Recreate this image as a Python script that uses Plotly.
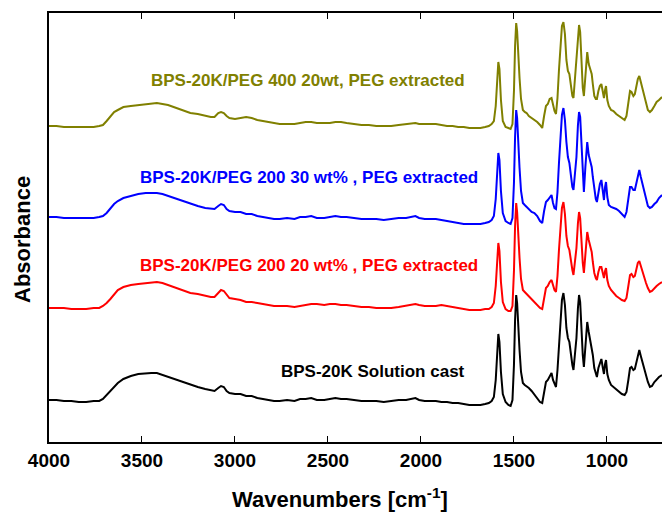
import plotly.graph_objects as go

# Wavenumber grid (cm^-1)
WN = [4000, 3960, 3920, 3880, 3840, 3800, 3760, 3730, 3710, 3690,
      3670, 3650, 3630, 3600, 3560, 3520, 3480, 3450, 3420, 3390,
      3360, 3330, 3300, 3270, 3240, 3200, 3160, 3130, 3110, 3090,
      3075, 3060, 3045, 3030, 3000, 2970, 2940, 2910, 2880, 2850,
      2820, 2790, 2760, 2720, 2680, 2650, 2620, 2590, 2560, 2520,
      2490, 2460, 2430, 2400, 2360, 2320, 2280, 2240, 2200, 2160,
      2120, 2080, 2050, 2030, 2010, 1980, 1950, 1920, 1890, 1860,
      1830, 1800, 1770, 1740, 1710, 1680, 1655, 1635, 1620, 1608,
      1598, 1590, 1584, 1578, 1570, 1560, 1545, 1530, 1518, 1508,
      1500, 1494, 1488, 1483, 1476, 1470, 1462, 1452, 1442, 1432,
      1420, 1405, 1390, 1375, 1360, 1348, 1338, 1328, 1318, 1308,
      1298, 1290, 1282, 1274, 1266, 1258, 1250, 1242, 1234, 1226,
      1218, 1210, 1202, 1194, 1186, 1180, 1172, 1164, 1156, 1150,
      1144, 1137, 1130, 1124, 1116, 1106, 1098, 1090, 1082, 1076,
      1068, 1060, 1054, 1046, 1038, 1030, 1022, 1016, 1010, 1005,
      998, 990, 978, 965, 950, 935, 920, 905, 895, 885,
      876, 868, 858, 850, 842, 834, 826, 818, 810, 801,
      790, 780, 769, 758, 745, 733, 720, 704]

# Absorbance (relative to each spectrum's own baseline)
ABS_CAST = [0.00, 0.00, -0.01, -0.01, -0.02, -0.02, -0.01, -0.01, 0.01, 0.05,
            0.10, 0.14, 0.17, 0.21, 0.24, 0.26, 0.27, 0.27, 0.27, 0.25,
            0.23, 0.21, 0.19, 0.17, 0.15, 0.13, 0.11, 0.10, 0.09, 0.12,
            0.14, 0.13, 0.09, 0.07, 0.06, 0.06, 0.04, 0.04, 0.02, 0.01,
            0.00, -0.01, -0.01, 0.00, -0.01, 0.01, 0.01, 0.02, 0.00, 0.00,
            0.01, 0.02, 0.01, 0.01, 0.00, -0.01, -0.01, -0.01, -0.02, -0.01,
            0.00, 0.00, 0.01, 0.02, 0.00, -0.01, -0.01, -0.01, -0.02, -0.02,
            -0.03, -0.03, -0.04, -0.05, -0.05, -0.05, -0.04, -0.03, -0.01, 0.03,
            0.20, 0.55, 0.66, 0.58, 0.28, 0.06, -0.02, -0.05, -0.06, 0.00,
            0.35, 0.80, 1.05, 0.97, 0.64, 0.50, 0.28, 0.17, 0.15, 0.14,
            0.12, 0.09, 0.05, 0.02, -0.02, -0.03, 0.08, 0.18, 0.20, 0.24,
            0.27, 0.20, 0.16, 0.13, 0.30, 0.56, 0.80, 1.00, 1.07, 0.95,
            0.72, 0.62, 0.58, 0.45, 0.35, 0.30, 0.48, 0.62, 0.92, 1.05,
            0.98, 0.65, 0.45, 0.33, 0.55, 0.78, 0.68, 0.60, 0.55, 0.45,
            0.32, 0.25, 0.23, 0.32, 0.38, 0.41, 0.32, 0.26, 0.36, 0.40,
            0.26, 0.20, 0.15, 0.13, 0.10, 0.08, 0.06, 0.05, 0.08, 0.20,
            0.32, 0.33, 0.30, 0.31, 0.38, 0.46, 0.50, 0.44, 0.38, 0.33,
            0.25, 0.18, 0.13, 0.14, 0.18, 0.21, 0.23, 0.25]

ABS_PEG200_20 = [0.00, 0.00, 0.00, -0.01, -0.01, -0.01, 0.00, 0.00, 0.02, 0.05,
                 0.09, 0.14, 0.18, 0.21, 0.23, 0.24, 0.25, 0.26, 0.26, 0.25,
                 0.23, 0.21, 0.19, 0.17, 0.15, 0.14, 0.12, 0.11, 0.11, 0.15,
                 0.18, 0.17, 0.13, 0.10, 0.09, 0.08, 0.06, 0.06, 0.05, 0.04,
                 0.03, 0.02, 0.02, 0.02, 0.01, 0.02, 0.03, 0.04, 0.04, 0.03,
                 0.04, 0.04, 0.03, 0.03, 0.02, 0.01, 0.01, 0.00, 0.00, 0.00,
                 0.01, 0.02, 0.03, 0.04, 0.03, 0.02, 0.02, 0.02, 0.03, 0.02,
                 0.01, 0.00, -0.01, -0.02, -0.02, -0.02, -0.01, -0.01, 0.01, 0.05,
                 0.22, 0.55, 0.65, 0.57, 0.26, 0.06, -0.01, -0.03, -0.03, 0.02,
                 0.37, 0.82, 1.05, 0.96, 0.64, 0.50, 0.29, 0.18, 0.16, 0.14,
                 0.12, 0.09, 0.06, 0.03, 0.00, -0.01, 0.10, 0.20, 0.22, 0.26,
                 0.28, 0.22, 0.18, 0.16, 0.32, 0.58, 0.82, 1.00, 1.06, 0.94,
                 0.72, 0.62, 0.58, 0.46, 0.38, 0.33, 0.48, 0.60, 0.85, 0.96,
                 0.90, 0.62, 0.45, 0.35, 0.55, 0.76, 0.68, 0.62, 0.56, 0.46,
                 0.35, 0.30, 0.28, 0.36, 0.41, 0.41, 0.34, 0.30, 0.37, 0.40,
                 0.28, 0.22, 0.18, 0.15, 0.12, 0.10, 0.08, 0.07, 0.10, 0.22,
                 0.33, 0.34, 0.31, 0.32, 0.38, 0.45, 0.47, 0.42, 0.36, 0.32,
                 0.25, 0.20, 0.16, 0.17, 0.20, 0.22, 0.24, 0.26]

ABS_PEG200_30 = [0.00, 0.00, -0.01, -0.01, -0.01, -0.01, -0.01, 0.00, 0.01, 0.04,
                 0.09, 0.13, 0.16, 0.19, 0.21, 0.23, 0.24, 0.24, 0.24, 0.23,
                 0.21, 0.19, 0.17, 0.15, 0.13, 0.11, 0.09, 0.08, 0.08, 0.11,
                 0.13, 0.12, 0.08, 0.06, 0.05, 0.05, 0.03, 0.03, 0.01, 0.00,
                 -0.01, -0.02, -0.02, -0.01, -0.02, 0.00, 0.00, 0.01, -0.01, -0.01,
                 0.00, 0.01, 0.00, 0.00, -0.01, -0.02, -0.02, -0.02, -0.03, -0.02,
                 -0.01, -0.01, 0.00, 0.01, -0.01, -0.02, -0.02, -0.02, -0.03, -0.04,
                 -0.05, -0.06, -0.07, -0.07, -0.07, -0.07, -0.06, -0.05, -0.03, 0.01,
                 0.18, 0.53, 0.64, 0.57, 0.26, 0.04, -0.04, -0.06, -0.07, -0.01,
                 0.34, 0.80, 1.07, 0.99, 0.64, 0.49, 0.26, 0.14, 0.12, 0.10,
                 0.07, 0.05, 0.04, 0.01, -0.04, -0.06, 0.06, 0.15, 0.17, 0.19,
                 0.22, 0.14, 0.09, 0.08, 0.25, 0.54, 0.80, 1.02, 1.09, 0.97,
                 0.75, 0.60, 0.54, 0.40, 0.30, 0.27, 0.44, 0.60, 0.92, 1.05,
                 1.00, 0.68, 0.40, 0.25, 0.50, 0.75, 0.62, 0.55, 0.50, 0.40,
                 0.28, 0.18, 0.15, 0.25, 0.33, 0.37, 0.28, 0.17, 0.30, 0.35,
                 0.20, 0.12, 0.10, 0.09, 0.08, 0.06, 0.03, 0.00, 0.05, 0.18,
                 0.30, 0.30, 0.27, 0.27, 0.35, 0.43, 0.47, 0.40, 0.34, 0.27,
                 0.17, 0.11, 0.09, 0.10, 0.13, 0.15, 0.19, 0.22]

ABS_PEG400_20 = [0.00, 0.00, -0.01, -0.01, -0.01, -0.01, -0.01, 0.00, 0.01, 0.05,
                 0.10, 0.14, 0.16, 0.19, 0.20, 0.21, 0.22, 0.23, 0.23, 0.22,
                 0.21, 0.19, 0.17, 0.15, 0.13, 0.12, 0.10, 0.09, 0.09, 0.13,
                 0.14, 0.13, 0.10, 0.08, 0.07, 0.08, 0.09, 0.08, 0.06, 0.05,
                 0.04, 0.03, 0.02, 0.02, 0.02, 0.03, 0.04, 0.04, 0.03, 0.03,
                 0.03, 0.04, 0.04, 0.03, 0.02, 0.01, 0.01, 0.00, 0.00, 0.00,
                 0.01, 0.02, 0.03, 0.03, 0.02, 0.02, 0.02, 0.02, 0.01, 0.00,
                 0.00, -0.01, -0.01, -0.02, -0.02, -0.02, -0.01, 0.00, 0.02, 0.05,
                 0.20, 0.53, 0.64, 0.57, 0.26, 0.05, -0.01, -0.02, -0.03, 0.02,
                 0.35, 0.80, 1.03, 0.95, 0.63, 0.48, 0.27, 0.16, 0.14, 0.13,
                 0.10, 0.08, 0.06, 0.04, 0.01, -0.02, 0.10, 0.20, 0.22, 0.27,
                 0.28, 0.20, 0.15, 0.12, 0.28, 0.56, 0.82, 1.00, 1.04, 0.92,
                 0.66, 0.55, 0.52, 0.40, 0.30, 0.28, 0.48, 0.62, 0.88, 1.01,
                 0.94, 0.60, 0.38, 0.30, 0.52, 0.74, 0.62, 0.57, 0.52, 0.42,
                 0.30, 0.27, 0.27, 0.35, 0.40, 0.42, 0.34, 0.28, 0.36, 0.40,
                 0.26, 0.20, 0.16, 0.15, 0.12, 0.10, 0.08, 0.06, 0.10, 0.24,
                 0.35, 0.34, 0.30, 0.32, 0.40, 0.47, 0.50, 0.44, 0.37, 0.30,
                 0.22, 0.16, 0.14, 0.16, 0.20, 0.24, 0.26, 0.29]

SERIES_NAMES = ["BPS-20K Solution cast",
                "BPS-20K/PEG 200 20 wt% , PEG extracted",
                "BPS-20K/PEG 200 30 wt% , PEG extracted",
                "BPS-20K/PEG 400 20wt, PEG extracted"]
SERIES_DATA = [ABS_CAST, ABS_PEG200_20, ABS_PEG200_30, ABS_PEG400_20]
OFFSETS = [0.42, 1.34, 2.25, 3.16]
COLORS = ["#000000", "#ff0000", "#0000ff", "#808000"]
# label anchor (wavenumber, absorbance)
LABEL_X = [2763, 3521, 3521, 3462]
LABEL_Y = [0.71, 1.77, 2.65, 3.62]

XTICKS = [4000, 3500, 3000, 2500, 2000, 1500, 1000]

FONT = "Arial, 'Liberation Sans', sans-serif"

fig = go.Figure()
for name, vals, off, col in zip(SERIES_NAMES, SERIES_DATA, OFFSETS, COLORS):
    assert len(vals) == len(WN), (name, len(vals), len(WN))
    fig.add_trace(go.Scatter(
        x=WN, y=[v + off for v in vals], mode="lines", name=name,
        line=dict(color=col, width=2), showlegend=False))

for name, lx, ly, col in zip(SERIES_NAMES, LABEL_X, LABEL_Y, COLORS):
    fig.add_annotation(x=lx, y=ly, xref="x", yref="y", text=name,
                       showarrow=False, xanchor="left", yanchor="middle",
                       font=dict(family=FONT, size=17, color=col, weight="bold"))

fig.add_annotation(x=(340 - 49) / 613, y=(442 - 498) / 429, xref="paper", yref="paper",
                   text="Wavenumbers [cm<sup>-1</sup>]", showarrow=False,
                   xanchor="center", yanchor="middle",
                   font=dict(family=FONT, size=22, color="black", weight="bold"))
fig.add_annotation(x=(23 - 49) / 613, y=(442 - 240) / 429, xref="paper", yref="paper",
                   text="Absorbance", showarrow=False, textangle=-90,
                   xanchor="center", yanchor="middle",
                   font=dict(family=FONT, size=22, color="black", weight="bold"))

fig.update_layout(
    width=662, height=513,
    margin=dict(l=49, r=0, t=13, b=71),
    paper_bgcolor="white", plot_bgcolor="white",
    xaxis=dict(range=[4000, 704], tickvals=XTICKS, ticks="inside", ticklen=6,
               tickwidth=1, tickcolor="black", showline=True, linewidth=2,
               linecolor="black", mirror="ticks", showgrid=False, zeroline=False,
               tickfont=dict(family=FONT, size=19, color="black", weight="bold")),
    yaxis=dict(range=[0, 4.29], showticklabels=False, ticks="", showline=True,
               linewidth=2, linecolor="black", showgrid=False, zeroline=False),
)

fig.write_html("out.html")
